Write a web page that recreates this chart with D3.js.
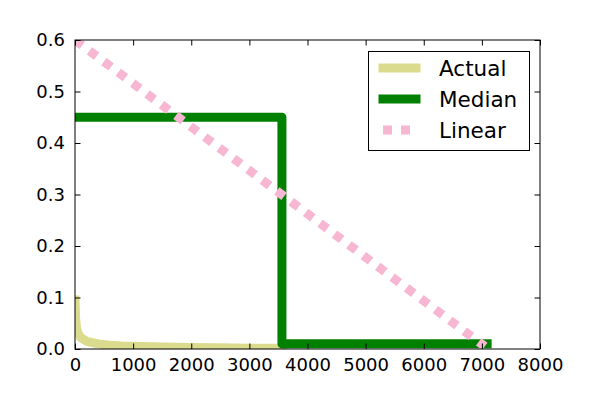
<!DOCTYPE html>
<html>
<head>
<meta charset="utf-8">
<script src="https://cdn.jsdelivr.net/npm/d3@7"></script>
<style>
  html, body { margin: 0; padding: 0; background: #fff; }
  svg { display: block; }
  text { font-family: "DejaVu Sans", sans-serif; fill: #000; }
</style>
</head>
<body>
<svg id="chart" width="600" height="400"></svg>
<script>
// ---- data ----
const actualX = [0, 10, 25, 50, 100, 200, 400, 600, 800, 1000, 1500, 2000, 2500, 3000, 3560];
const actualY = [0.095, 0.06, 0.042, 0.031, 0.022, 0.015, 0.010, 0.0075, 0.006, 0.0052, 0.0038, 0.003, 0.0022, 0.0017, 0.0014];
const medianX = [0, 3560, 3560, 7090];
const medianY = [0.45, 0.45, 0.01, 0.01];
const linearX = [0, 7050];
const linearY = [0.6, 0.005];
const seriesNames = ["Actual", "Median", "Linear"];
const xTicks = [0, 1000, 2000, 3000, 4000, 5000, 6000, 7000, 8000];
const yTicks = [0.0, 0.1, 0.2, 0.3, 0.4, 0.5, 0.6];

const svg = d3.select("#chart");
const L = 75, R = 540, T = 40, B = 349;
const x = d3.scaleLinear().domain([0, 8000]).range([L, R]);
const y = d3.scaleLinear().domain([0, 0.6]).range([B, T]);

svg.append("defs").append("clipPath").attr("id", "clip")
  .append("rect").attr("x", L).attr("y", T).attr("width", R - L).attr("height", B - T);

const styles = [
  { color: "#dbdb8d", width: 9, dash: null, cap: "square" },
  { color: "#008000", width: 9, dash: null, cap: "square" },
  { color: "#f7b6d2", width: 9, dash: "9,9", cap: "butt" }
];
const series = [
  actualX.map((v, i) => [v, actualY[i]]),
  medianX.map((v, i) => [v, medianY[i]]),
  linearX.map((v, i) => [v, linearY[i]])
];

const line = d3.line().x(d => x(d[0])).y(d => y(d[1]));
const g = svg.append("g").attr("clip-path", "url(#clip)");
series.forEach((s, i) => {
  const st = styles[i];
  g.append("path").datum(s).attr("d", line)
    .attr("fill", "none").attr("stroke", st.color)
    .attr("stroke-width", st.width)
    .attr("stroke-linejoin", "round")
    .attr("stroke-linecap", st.cap)
    .attr("stroke-dasharray", st.dash);
});

// axes (classic style: inward ticks on all sides)
const tick = 5.5;
const fmtY = d3.format(".1f");
const axB = d3.axisBottom(x).tickValues(xTicks).tickSizeInner(-tick).tickSizeOuter(0).tickPadding(9).tickFormat(d3.format("d"));
const axT = d3.axisTop(x).tickValues(xTicks).tickSizeInner(-tick).tickSizeOuter(0).tickFormat("");
const axL = d3.axisLeft(y).tickValues(yTicks).tickSizeInner(-tick).tickSizeOuter(0).tickPadding(10).tickFormat(fmtY);
const axR = d3.axisRight(y).tickValues(yTicks).tickSizeInner(-tick).tickSizeOuter(0).tickFormat("");

function style(sel) {
  sel.select(".domain").remove();
  sel.selectAll("line").attr("stroke", "#000").attr("stroke-width", 1);
  sel.selectAll("text").attr("font-size", "18px").attr("font-family", "DejaVu Sans").attr("fill", "#000");
}
svg.append("g").attr("transform", `translate(0,${B})`).call(axB).call(style);
svg.append("g").attr("transform", `translate(0,${T})`).call(axT).call(style);
svg.append("g").attr("transform", `translate(${L},0)`).call(axL).call(style);
svg.append("g").attr("transform", `translate(${R},0)`).call(axR).call(style);

svg.append("rect").attr("x", L).attr("y", T).attr("width", R - L).attr("height", B - T)
  .attr("fill", "none").attr("stroke", "#000").attr("stroke-width", 1);

// legend
const lg = svg.append("g");
lg.append("rect").attr("x", 368.5).attr("y", 51.5).attr("width", 161).attr("height", 99)
  .attr("fill", "#fff").attr("stroke", "#000").attr("stroke-width", 1);
const rowY = [68, 99, 130];
seriesNames.forEach((n, i) => {
  const st = styles[i];
  lg.append("line").attr("x1", 383).attr("x2", i === 2 ? 410 : 416)
    .attr("y1", rowY[i]).attr("y2", rowY[i])
    .attr("stroke", st.color).attr("stroke-width", st.width)
    .attr("stroke-linecap", st.cap).attr("stroke-dasharray", st.dash);
  lg.append("text").attr("x", 439).attr("y", rowY[i]).attr("dy", "0.36em")
    .attr("font-size", "21.5px").text(n);
});
</script>
</body>
</html>
